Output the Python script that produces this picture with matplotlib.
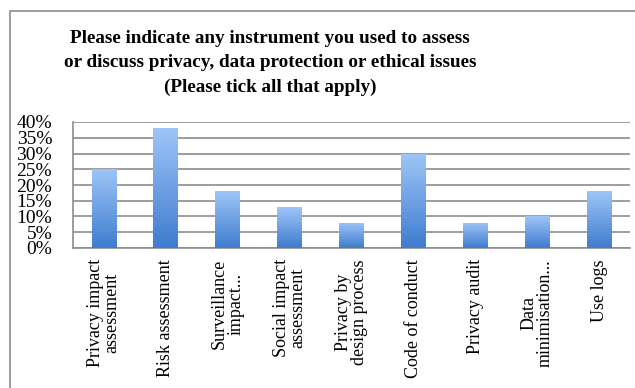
import numpy as np
import matplotlib
matplotlib.use("Agg")
from matplotlib import pyplot as plt
from matplotlib.colors import LinearSegmentedColormap
from matplotlib.patches import Rectangle
from matplotlib.ticker import PercentFormatter

# Données
categories = ["Privacy impact\nassessment", "Risk assessment", "Surveillance\nimpact...",
              "Social impact\nassessment", "Privacy by\ndesign process", "Code of conduct",
              "Privacy audit", "Data\nminimisation...", "Use logs"]
values = [25, 38, 18, 13, 8, 30, 8, 10, 18]
yticks = [0, 5, 10, 15, 20, 25, 30, 35, 40]

title = ("Please indicate any instrument you used to assess\n"
         "or discuss privacy, data protection or ethical issues\n"
         "(Please tick all that apply)")

plt.rcParams['font.family'] = ['Liberation Serif', 'DejaVu Serif']

fig = plt.figure(figsize=(6.35, 3.88), dpi=100)
ax = fig.add_axes([73 / 635, 1 - 248 / 388, 557 / 635, 126 / 388])

# Cadre du graphique
fig.patches.append(Rectangle((10 / 635, -0.01), 1.0, 1 - 11 / 388 + 0.01,
                             transform=fig.transFigure, fill=False,
                             edgecolor="#8c8c8c", linewidth=1.2))

x = np.arange(len(categories))
bars = ax.bar(x, values, width=0.4, color="none", zorder=3)

# Dégradé dans les barres (clair en haut, foncé en bas)
cmap = LinearSegmentedColormap.from_list("grad", ["#3e7ccf", "#9fc5f8"])
grad = np.linspace(0, 1, 256).reshape(-1, 1)
for b in bars:
    x0, y0, w, h = b.get_x(), b.get_y(), b.get_width(), b.get_height()
    im = ax.imshow(grad, cmap=cmap, aspect="auto", origin="lower",
                   extent=[x0, x0 + w, y0, y0 + h], zorder=3)
    im.set_clip_path(b)

ax.set_xlim(-0.5, len(categories) - 0.5)
ax.set_ylim(0, 40)
ax.set_yticks(yticks)
ax.yaxis.set_major_formatter(PercentFormatter(decimals=0))
ax.grid(axis="y", color="#8c8c8c", linewidth=1.2, zorder=0)
ax.set_xticks(x)
ax.set_xticklabels(categories, rotation=90, va="top", ha="center",
                   multialignment="center", fontsize=13, linespacing=0.95)
ax.tick_params(axis="y", length=0, labelsize=14, pad=15)
ax.tick_params(axis="x", length=0, pad=8)
for s in ["top", "right"]:
    ax.spines[s].set_visible(False)
for s in ["left", "bottom"]:
    ax.spines[s].set_color("#8c8c8c")
    ax.spines[s].set_linewidth(1.2)

fig.text(270 / 635, 1 - 30 / 388, title, ha="center", va="top", fontsize=13.8,
         fontweight="bold", linespacing=1.55)

fig.savefig("out.png", dpi=100)
